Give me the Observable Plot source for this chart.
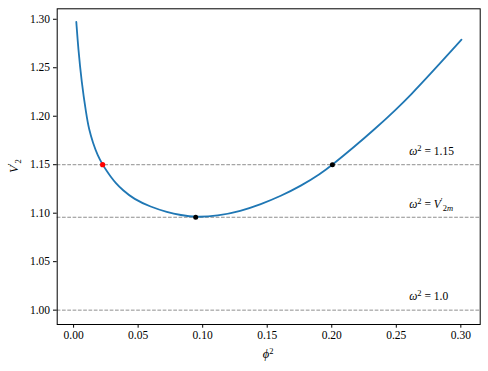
<!DOCTYPE html>
<html><head><meta charset="utf-8">
<script src="https://cdn.jsdelivr.net/npm/d3@7"></script>
<script src="https://cdn.jsdelivr.net/npm/@observablehq/plot@0.6"></script>
<style>body{margin:0;background:#fff;}</style>
</head><body><div id="chart"></div>
<script>
// Curve V2'(phi^2)
const phi2 = [0.0021, 0.0036, 0.0062, 0.0098, 0.0119, 0.0150, 0.0186, 0.0225, 0.0256, 0.0287, 0.0326, 0.0378, 0.0467, 0.0597, 0.0726, 0.0829, 0.0946, 0.1114, 0.1295, 0.145, 0.1605, 0.176, 0.1915, 0.2005, 0.216, 0.234, 0.25, 0.2612, 0.2754, 0.3005];
const V2   = [1.2972, 1.2698, 1.2353, 1.2020, 1.1865, 1.1725, 1.1597, 1.1501, 1.1436, 1.1377, 1.1311, 1.1241, 1.1145, 1.1065, 1.1010, 1.0980, 1.0958, 1.0971, 1.1022, 1.1091, 1.1177, 1.128, 1.1408, 1.150, 1.1668, 1.1875, 1.2072, 1.2220, 1.2421, 1.279];
// marked points
const redX = [0.0225], redY = [1.15];
const blackX = [0.0946, 0.2005], blackY = [1.0958, 1.15];
// reference levels and their labels
const refLevels = [1.15, 1.0958, 1.0];
const refNames = ["1.15", "V2m", "1.0"];
const labelX = 0.26, labelOffset = 0.01;
// ticks
const xTicks = [0.00, 0.05, 0.10, 0.15, 0.20, 0.25, 0.30];
const yTicks = [1.00, 1.05, 1.10, 1.15, 1.20, 1.25, 1.30];

const curve = phi2.map((x, i) => ({x, y: V2[i]}));
const reds = redX.map((x, i) => ({x, y: redY[i]}));
const blacks = blackX.map((x, i) => ({x, y: blackY[i]}));
const labels = refLevels.map((y, i) => ({x: labelX, y: y + labelOffset, name: refNames[i]}));

const FONT = "Liberation Serif, serif";

const plot = Plot.plot({
  width: 488, height: 371,
  marginLeft: 56.7, marginRight: 8.3, marginTop: 8.3, marginBottom: 47,
  style: {fontFamily: FONT, fontSize: "11.5px", background: "#fff", color: "#000"},
  x: {domain: [-0.0127, 0.3150]},
  y: {domain: [0.9852, 1.3108]},
  marks: [
    Plot.ruleY(refLevels, {stroke: "#8f8f8f", strokeWidth: 1, strokeDasharray: "3.7,1.6"}),
    Plot.line(curve, {x: "x", y: "y", stroke: "#1f77b4", strokeWidth: 1.8, curve: "basis"}),
    Plot.dot(reds, {x: "x", y: "y", r: 2.6, fill: "red", stroke: "none"}),
    Plot.dot(blacks, {x: "x", y: "y", r: 2.5, fill: "black", stroke: "none"}),
    Plot.text(labels, {x: "x", y: "y", text: "name", textAnchor: "start", lineAnchor: "bottom", fontSize: 11.5, fill: "#000", className: "reflbl"}),
    Plot.frame({stroke: "#000", strokeWidth: 1}),
    Plot.axisX({ticks: xTicks, tickFormat: d3.format(".2f"), tickSize: 3.7, tickPadding: 3, label: null, fontSize: 11.5}),
    Plot.axisY({ticks: yTicks, tickFormat: d3.format(".2f"), tickSize: 3.7, tickPadding: 3.5, label: null, fontSize: 11.5})
  ]
});

const svg = d3.select(plot);
function addParts(textSel, parts) {
  textSel.text(null);
  let shift = 0;
  for (const p of parts) {
    const t = textSel.append("tspan").text(p.t);
    let target = p.pos === "sup" ? -4 : p.pos === "sub" ? 3 : 0;
    if (target - shift !== 0) t.attr("dy", target - shift);
    shift = target;
    if (p.it) t.attr("font-style", "italic");
    if (p.pos) t.attr("font-size", 8.5);
  }
}
function labelParts(name) {
  const base = [{t: "ω", it: true}, {t: "2", pos: "sup"}, {t: " = "}];
  if (name === "V2m") return base.concat([{t: "V", it: true}, {t: "′", pos: "sup"}, {t: "2", pos: "sub"}, {t: "m", pos: "sub", it: true}]);
  return base.concat([{t: name}]);
}
svg.selectAll(".reflbl text").each(function(d, i) {
  addParts(d3.select(this), labelParts(refNames[i]));
});

// axis titles
const xt = svg.append("text").attr("x", 268.2).attr("y", 358).attr("text-anchor", "middle")
  .attr("font-family", FONT).attr("font-size", 12.5).attr("fill", "#000");
addParts(xt, [{t: "ϕ", it: true}, {t: "2", pos: "sup"}]);
const yt = svg.append("text").attr("transform", "translate(18,166) rotate(-90)").attr("text-anchor", "middle")
  .attr("font-family", FONT).attr("font-size", 12.5).attr("fill", "#000");
addParts(yt, [{t: "V", it: true}, {t: "′", pos: "sup"}, {t: "2", pos: "sub"}]);

document.getElementById("chart").appendChild(plot);
</script>
</body></html>
